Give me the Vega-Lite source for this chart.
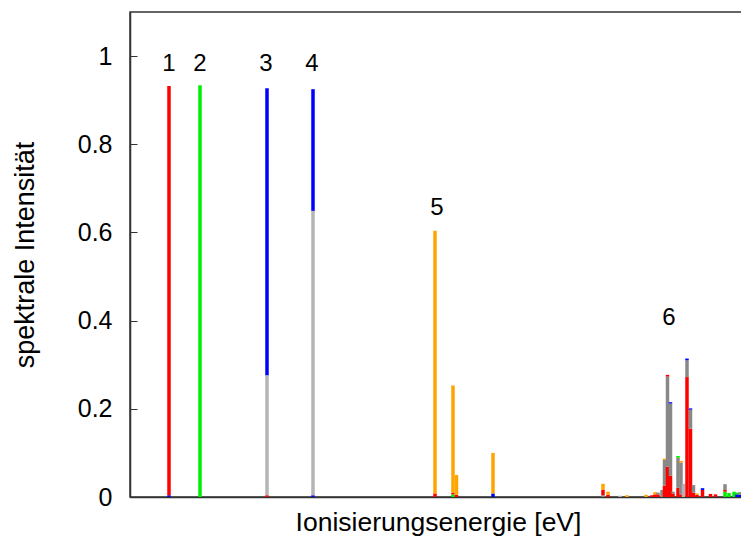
{
  "$schema": "https://vega.github.io/schema/vega-lite/v6.json",
  "width": 612,
  "height": 485,
  "autosize": {"type": "none"},
  "padding": {"left": 130, "top": 12, "right": 0, "bottom": 42},
  "background": "white",
  "config": {
    "font": "Liberation Sans",
    "view": {"stroke": "#333333", "strokeWidth": 1.5},
    "axis": {"grid": false}
  },
  "datasets": {
    "bars": [
      {"e": 39, "s": "blau", "v": 0.004, "o": 0},
      {"e": 39, "s": "rot", "v": 0.928, "o": 1},
      {"e": 70, "s": "gruen", "v": 0.934, "o": 1},
      {"e": 137, "s": "rot", "v": 0.004, "o": 0},
      {"e": 137, "s": "grau", "v": 0.272, "o": 1},
      {"e": 137, "s": "blau", "v": 0.651, "o": 2},
      {"e": 183, "s": "blau", "v": 0.004, "o": 0},
      {"e": 183, "s": "grau", "v": 0.645, "o": 1},
      {"e": 183, "s": "blau", "v": 0.276, "o": 2},
      {"e": 305, "s": "rot", "v": 0.008, "o": 0},
      {"e": 305, "s": "orange", "v": 0.596, "o": 1},
      {"e": 323, "s": "gruen", "v": 0.006, "o": 0},
      {"e": 323, "s": "rot", "v": 0.004, "o": 1},
      {"e": 323, "s": "orange", "v": 0.243, "o": 2},
      {"e": 326.5, "s": "rot", "v": 0.005, "o": 0},
      {"e": 326.5, "s": "orange", "v": 0.045, "o": 1},
      {"e": 363, "s": "blau", "v": 0.008, "o": 0},
      {"e": 363, "s": "orange", "v": 0.092, "o": 1},
      {"e": 473, "s": "grau2", "v": 0.004, "o": 0},
      {"e": 473, "s": "rot", "v": 0.012, "o": 1},
      {"e": 473, "s": "orange", "v": 0.014, "o": 2},
      {"e": 478, "s": "rot", "v": 0.005, "o": 1},
      {"e": 478, "s": "orange", "v": 0.007, "o": 2},
      {"e": 490, "s": "grau", "v": 0.003, "o": 1},
      {"e": 497, "s": "orange", "v": 0.004, "o": 1},
      {"e": 516, "s": "orange", "v": 0.005, "o": 1},
      {"e": 522, "s": "rot", "v": 0.004, "o": 1},
      {"e": 525, "s": "rot", "v": 0.006, "o": 0},
      {"e": 525, "s": "orange", "v": 0.005, "o": 1},
      {"e": 528, "s": "rot", "v": 0.006, "o": 0},
      {"e": 528, "s": "grau2", "v": 0.004, "o": 1},
      {"e": 532, "s": "grau2", "v": 0.016, "o": 1},
      {"e": 534.5, "s": "rot", "v": 0.026, "o": 0},
      {"e": 534.5, "s": "grau2", "v": 0.058, "o": 1},
      {"e": 534.5, "s": "orange", "v": 0.003, "o": 2},
      {"e": 537.5, "s": "rot", "v": 0.069, "o": 0},
      {"e": 537.5, "s": "grau2", "v": 0.204, "o": 1},
      {"e": 537.5, "s": "rot", "v": 0.004, "o": 2},
      {"e": 540.5, "s": "rot", "v": 0.048, "o": 0},
      {"e": 540.5, "s": "grau2", "v": 0.164, "o": 1},
      {"e": 540.5, "s": "blau", "v": 0.003, "o": 2},
      {"e": 543, "s": "rot", "v": 0.008, "o": 0},
      {"e": 543, "s": "grau2", "v": 0.004, "o": 1},
      {"e": 548, "s": "rot", "v": 0.021, "o": 0},
      {"e": 548, "s": "grau2", "v": 0.068, "o": 1},
      {"e": 548, "s": "gruen", "v": 0.004, "o": 2},
      {"e": 551, "s": "rot", "v": 0.006, "o": 0},
      {"e": 551, "s": "grau2", "v": 0.072, "o": 1},
      {"e": 551, "s": "orange", "v": 0.004, "o": 2},
      {"e": 553.5, "s": "grau", "v": 0.03, "o": 1},
      {"e": 557, "s": "rot", "v": 0.272, "o": 0},
      {"e": 557, "s": "grau2", "v": 0.038, "o": 1},
      {"e": 557, "s": "blau", "v": 0.004, "o": 2},
      {"e": 560.5, "s": "rot", "v": 0.155, "o": 0},
      {"e": 560.5, "s": "grau2", "v": 0.043, "o": 1},
      {"e": 560.5, "s": "blau", "v": 0.003, "o": 2},
      {"e": 563.5, "s": "rot", "v": 0.01, "o": 0},
      {"e": 563.5, "s": "grau2", "v": 0.017, "o": 1},
      {"e": 567, "s": "rot", "v": 0.005, "o": 0},
      {"e": 567, "s": "orange", "v": 0.003, "o": 1},
      {"e": 572.5, "s": "rot", "v": 0.016, "o": 0},
      {"e": 572.5, "s": "blau", "v": 0.004, "o": 1},
      {"e": 580.5, "s": "rot", "v": 0.007, "o": 0},
      {"e": 585.5, "s": "rot", "v": 0.006, "o": 0},
      {"e": 595, "s": "gruen", "v": 0.012, "o": 0},
      {"e": 595, "s": "rot", "v": 0.004, "o": 1},
      {"e": 595, "s": "grau2", "v": 0.013, "o": 2},
      {"e": 599, "s": "gruen", "v": 0.009, "o": 0},
      {"e": 604, "s": "gruen", "v": 0.012, "o": 0},
      {"e": 607, "s": "blau", "v": 0.006, "o": 0},
      {"e": 607, "s": "gruen", "v": 0.004, "o": 1},
      {"e": 610, "s": "blau", "v": 0.005, "o": 0},
      {"e": 610, "s": "grau2", "v": 0.006, "o": 1}
    ],
    "labels": [
      {"e": 39, "y": 0.982, "t": "1"},
      {"e": 70, "y": 0.982, "t": "2"},
      {"e": 136, "y": 0.982, "t": "3"},
      {"e": 182, "y": 0.982, "t": "4"},
      {"e": 307, "y": 0.656, "t": "5"},
      {"e": 539, "y": 0.406, "t": "6"}
    ]
  },
  "layer": [
    {
      "data": {"name": "bars"},
      "mark": {"type": "bar", "size": 3.5},
      "encoding": {
        "x": {
          "field": "e", "type": "quantitative",
          "scale": {"domain": [0, 612], "nice": false, "zero": false, "padding": 0},
          "axis": {"title": "Ionisierungsenergie [eV]", "labels": false, "ticks": false,
                   "domainColor": "#333333", "domainWidth": 1.5,
                   "titleFontSize": 26.5, "titleFontWeight": "normal", "titleColor": "black",
                   "titlePadding": 12, "titleX": 308}
        },
        "y": {
          "field": "v", "type": "quantitative", "stack": "zero",
          "scale": {"domain": [0, 1.1], "nice": false, "padding": 0},
          "axis": {"title": "spektrale Intensität", "values": [0, 0.2, 0.4, 0.6, 0.8, 1],
                   "format": "~g", "labelFontSize": 25, "labelColor": "black",
                   "tickSize": -7, "tickColor": "#333333", "labelPadding": 25,
                   "domainColor": "#333333", "domainWidth": 1.5,
                   "titleFontSize": 27, "titleFontWeight": "normal", "titleColor": "black",
                   "titlePadding": 38}
        },
        "color": {
          "field": "s", "type": "nominal", "legend": null,
          "scale": {"domain": ["rot", "gruen", "blau", "grau", "grau2", "orange"],
                    "range": ["#ff0000", "#00ee00", "#0000ff", "#b4b4b4", "#888888", "#ffa500"]}
        },
        "order": {"field": "o", "type": "quantitative"}
      }
    },
    {
      "data": {"name": "labels"},
      "mark": {"type": "text", "fontSize": 24, "baseline": "middle", "align": "center", "color": "black"},
      "encoding": {
        "x": {"field": "e", "type": "quantitative"},
        "y": {"field": "y", "type": "quantitative"},
        "text": {"field": "t"}
      }
    }
  ]
}
